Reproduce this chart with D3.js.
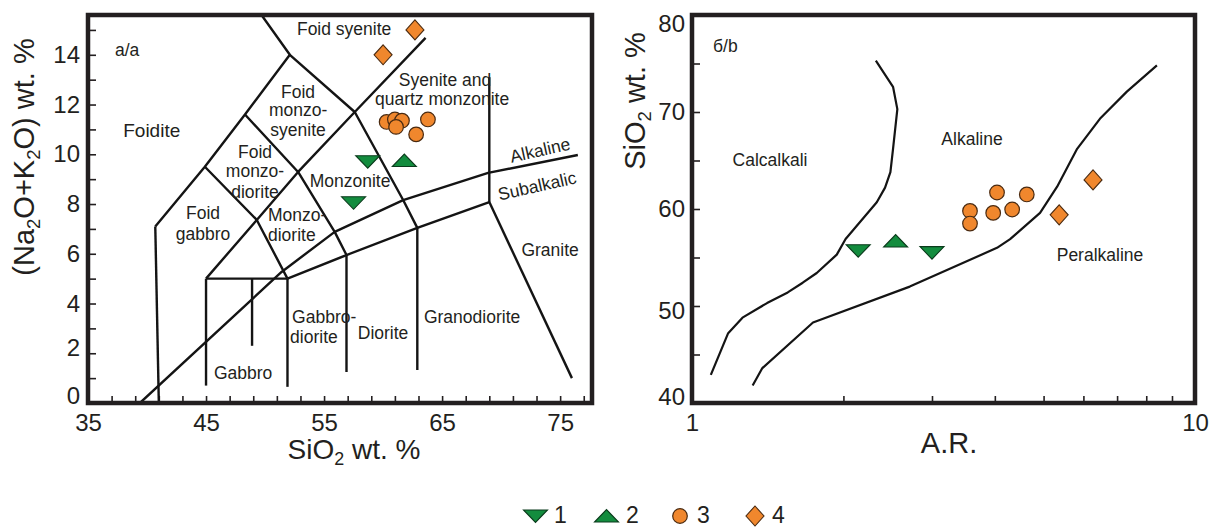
<!DOCTYPE html>
<html><head><meta charset="utf-8">
<script src="https://cdn.jsdelivr.net/npm/d3@7"></script>
<style>
body{margin:0;background:#fff;}
svg{display:block;font-family:"Liberation Sans",Arial,sans-serif;}
</style></head><body>
<svg id="c" width="1210" height="528"></svg>
<script>
// ---------------- DATA ----------------
// Left panel (TAS): SiO2 vs Na2O+K2O
const tasXDomain = [35, 77.7];
const tasYDomain = [0, 15.6];
const tasXLabels = [35, 45, 55, 65, 75];
const tasYLabels = [0, 2, 4, 6, 8, 10, 12, 14];

const tasS1 = [[58.7, 9.7], [57.5, 8.05]];               // 1 (down triangle)
const tasS2 = [[61.8, 9.75]];                             // 2 (up triangle)
const tasS3 = [[60.3, 11.3], [61.0, 11.4], [61.6, 11.35], [61.1, 11.1], [62.8, 10.8], [63.8, 11.4]]; // 3 circle
const tasS4 = [[62.7, 15.0], [60.0, 14.0]];              // 4 diamond

// TAS field boundaries (SiO2, Na2O+K2O)
const tasBoundaries = [
  [[41.0, 0], [40.7, 7.1]],
  [[40.7, 7.1], [44.9, 9.5], [48.3, 11.6], [52.1, 14.0], [49.7, 15.6]],
  [[44.9, 9.5], [49.3, 7.36], [51.9, 5.0]],
  [[48.3, 11.6], [52.8, 9.29], [55.9, 6.88], [56.9, 5.95], [56.9, 1.25]],
  [[52.1, 14.0], [57.6, 11.7], [61.7, 8.16], [62.9, 7.04], [62.9, 1.33]],
  [[45.0, 5.0], [49.3, 7.36], [52.8, 9.29], [57.6, 11.7], [63.6, 14.68]],
  [[45.0, 5.0], [51.9, 5.0]],
  [[45.0, 5.0], [45.0, 0.7]],
  [[48.9, 5.0], [48.9, 2.3]],
  [[51.9, 5.0], [51.9, 0.65]],
  [[51.9, 5.0], [56.9, 5.95], [62.9, 7.04], [69.0, 8.08]],
  [[69.0, 8.08], [69.0, 13.1]],
  [[69.0, 8.08], [76.0, 1.0]]
];
const tasAlkalineLine = [[39.4, 0], [51.4, 5.27], [55.9, 6.88], [61.7, 8.16], [68.9, 9.25], [76.5, 9.97]];

// Right panel: A.R. (log) vs SiO2
const arXDomain = [1, 10];
const arYDomain = [40, 80];
const arXLabels = [1, 10];
const arYLabels = [40, 50, 60, 70, 80];

const arS1 = [[2.14, 55.7], [3.0, 55.5]];
const arS2 = [[2.54, 56.7]];
const arS3 = [[3.57, 59.8], [3.57, 58.5], [4.04, 61.7], [3.97, 59.6], [4.33, 59.95], [4.63, 61.5]];
const arS4 = [[5.37, 59.4], [6.27, 63.0]];

const arCalcAlkLine = [[2.32, 75.3], [2.51, 72.6], [2.56, 70.3], [2.51, 66.2], [2.48, 63.8], [2.42, 62.2],
  [2.33, 60.7], [2.02, 56.9], [1.94, 55.3], [1.77, 53.4], [1.66, 52.4], [1.55, 51.4], [1.41, 50.3],
  [1.26, 48.8], [1.18, 47.2], [1.09, 42.9]];
const arPeralkLine = [[1.32, 41.8], [1.38, 43.6], [1.74, 48.3], [2.71, 52.0], [4.04, 56.0], [4.29, 56.9],
  [4.92, 59.6], [5.32, 62.3], [5.83, 66.2], [6.47, 69.3], [7.32, 72.1], [8.4, 74.8]];

const legendLabels = ["1", "2", "3", "4"];

// ---------------- DRAW ----------------
const INK = "#231f20";
const ORANGE = "#f0872d", ORANGE_ST = "#4a2a10";
const GREEN = "#138c3e", GREEN_ST = "#0b3b1c";
const svg = d3.select("#c");

function marker(g, type, x, y) {
  if (type === "circle") {
    g.append("circle").attr("cx", x).attr("cy", y).attr("r", 7.3)
      .attr("fill", ORANGE).attr("stroke", ORANGE_ST).attr("stroke-width", 1.2);
    return;
  }
  let p, fill, st;
  if (type === "down") { p = "M-12,-6L12,-6L0,6.5Z"; fill = GREEN; st = GREEN_ST; }
  if (type === "up") { p = "M-12,6L12,6L0,-6.5Z"; fill = GREEN; st = GREEN_ST; }
  if (type === "diamond") { p = "M0,-10L9,0L0,10L-9,0Z"; fill = ORANGE; st = ORANGE_ST; }
  g.append("path").attr("d", p).attr("transform", `translate(${x},${y})`)
    .attr("fill", fill).attr("stroke", st).attr("stroke-width", 1.1).attr("stroke-linejoin", "miter");
}

function richText(sel, parts, size) {
  let open = false;
  parts.forEach(([t, sub]) => {
    if (sub) {
      sel.append("tspan").attr("font-size", size * 0.64).attr("dy", size * 0.2).text(t);
    } else {
      const ts = sel.append("tspan").attr("font-size", size).text(t);
      if (open) ts.attr("dy", -size * 0.2);
    }
    open = !!sub;
  });
}

function styleAxis(g) {
  g.select(".domain").remove();
  g.selectAll(".tick line").attr("stroke", INK).attr("stroke-width", 1.6);
  g.selectAll(".tick text").attr("fill", INK).attr("font-size", 24)
    .attr("font-family", '"Liberation Sans", Arial, sans-serif');
}

function label(g, txt, x, y, opts = {}) {
  const t = g.append("text").attr("x", x).attr("y", y).attr("dy", "0.35em")
    .attr("text-anchor", opts.anchor || "middle").attr("fill", INK)
    .attr("font-size", opts.size || 17.5).text(txt);
  if (opts.rot) t.attr("transform", `rotate(${opts.rot},${x},${y})`);
  return t;
}

// ===== Left panel =====
const xL = d3.scaleLinear().domain(tasXDomain).range([88, 592]);
const yL = d3.scaleLinear().domain(tasYDomain).range([403, 15]);
const gL = svg.append("g");
gL.append("clipPath").attr("id", "clipL").append("rect")
  .attr("x", 88).attr("y", 15).attr("width", 504).attr("height", 388);

gL.append("g").attr("transform", "translate(0,403)")
  .call(d3.axisBottom(xL).tickValues(d3.range(35, 78, 2)).tickSize(-7).tickPadding(11)
    .tickFormat(d => tasXLabels.includes(d) ? d : ""))
  .call(styleAxis);
const yAxL = gL.append("g").attr("transform", "translate(88,0)")
  .call(d3.axisLeft(yL).tickValues(d3.range(0, 16, 1)).tickSize(-8).tickPadding(8)
    .tickFormat(d => tasYLabels.includes(d) ? d : ""))
  .call(styleAxis);
yAxL.selectAll(".tick text").filter(d => d === 0).attr("y", -7);
yAxL.selectAll(".tick text").filter(d => d === 2).attr("y", -5);

const lineL = d3.line().x(d => xL(d[0])).y(d => yL(d[1]));
const linesL = gL.append("g").attr("clip-path", "url(#clipL)");
tasBoundaries.concat([tasAlkalineLine]).forEach(l => {
  linesL.append("path").attr("d", lineL(l)).attr("fill", "none")
    .attr("stroke", "#141414").attr("stroke-width", 2.4).attr("stroke-linejoin", "round");
});

// field labels (data coords)
const lg = gL.append("g");
label(lg, "a/a", xL(37.29), yL(14.19), { anchor: "start" });
label(lg, "Foid syenite", xL(56.7), yL(15.04));
label(lg, "Foidite", xL(40.4), yL(10.98), { size: 19 });
label(lg, "Foid", xL(52.8), yL(12.5));
label(lg, "monzo-", xL(52.8), yL(11.78));
label(lg, "syenite", xL(52.8), yL(11.0));
label(lg, "Syenite and", xL(65.25), yL(12.99));
label(lg, "quartz monzonite", xL(65.0), yL(12.22));
label(lg, "Foid", xL(49.15), yL(10.09));
label(lg, "monzo-", xL(49.15), yL(9.33));
label(lg, "diorite", xL(49.15), yL(8.48));
label(lg, "Foid", xL(44.75), yL(7.64));
label(lg, "gabbro", xL(44.75), yL(6.8));
label(lg, "Monzonite", xL(57.2), yL(8.93));
label(lg, "Monzo-", xL(50.25), yL(7.56), { anchor: "start" });
label(lg, "diorite", xL(50.25), yL(6.76), { anchor: "start" });
label(lg, "Alkaline", xL(73.3), yL(10.17), { rot: -12.5 });
label(lg, "Subalkalic", xL(73.05), yL(8.73), { rot: -12.6 });
label(lg, "Granite", xL(74.15), yL(6.15));
label(lg, "Granodiorite", xL(67.54), yL(3.46));
label(lg, "Diorite", xL(60.0), yL(2.81));
label(lg, "Gabbro-", xL(52.29), yL(3.46), { anchor: "start" });
label(lg, "diorite", xL(52.12), yL(2.65), { anchor: "start" });
label(lg, "Gabbro", xL(48.14), yL(1.21));

// markers
const mL = gL.append("g");
tasS1.forEach(d => marker(mL, "down", xL(d[0]), yL(d[1])));
tasS2.forEach(d => marker(mL, "up", xL(d[0]), yL(d[1])));
tasS3.forEach(d => marker(mL, "circle", xL(d[0]), yL(d[1])));
tasS4.forEach(d => marker(mL, "diamond", xL(d[0]), yL(d[1])));

gL.append("rect").attr("x", 88).attr("y", 15).attr("width", 504).attr("height", 388)
  .attr("fill", "none").attr("stroke", INK).attr("stroke-width", 4.5);

// axis titles
const tx1 = gL.append("text").attr("x", 354).attr("y", 459).attr("text-anchor", "middle").attr("fill", INK);
richText(tx1, [["SiO", false], ["2", true], [" wt. %", false]], 28);
const ty1 = gL.append("text").attr("transform", "translate(34,157) rotate(-90)")
  .attr("text-anchor", "middle").attr("fill", INK);
richText(ty1, [["(Na", false], ["2", true], ["O+K", false], ["2", true], ["O) wt. %", false]], 29);

// ===== Right panel =====
const xR = d3.scaleLog().domain(arXDomain).range([692, 1195]);
const yR = d3.scaleLinear().domain(arYDomain).range([403, 15]);
const gR = svg.append("g");
gR.append("clipPath").attr("id", "clipR").append("rect")
  .attr("x", 692).attr("y", 15).attr("width", 503).attr("height", 388);

gR.append("g").attr("transform", "translate(0,403)")
  .call(d3.axisBottom(xR).tickValues(d3.range(1, 11, 1)).tickSize(-7).tickPadding(11)
    .tickFormat(d => arXLabels.includes(d) ? d : ""))
  .call(styleAxis);
const yAxR = gR.append("g").attr("transform", "translate(692,0)")
  .call(d3.axisLeft(yR).tickValues(d3.range(40, 81, 5)).tickSize(-8).tickPadding(7)
    .tickFormat(d => arYLabels.includes(d) ? d : ""))
  .call(styleAxis);
yAxR.selectAll(".tick text").filter(d => d === 80).attr("y", 9);
yAxR.selectAll(".tick text").filter(d => d === 40).attr("y", -6);
yAxR.selectAll(".tick text").filter(d => d === 50).attr("y", 5);

const lineR = d3.line().x(d => xR(d[0])).y(d => yR(d[1]));
const linesR = gR.append("g").attr("clip-path", "url(#clipR)");
[arCalcAlkLine, arPeralkLine].forEach(l => {
  linesR.append("path").attr("d", lineR(l)).attr("fill", "none")
    .attr("stroke", "#141414").attr("stroke-width", 2.2).attr("stroke-linejoin", "round");
});

const lr = gR.append("g");
label(lr, "б/b", xR(1.101), yR(76.8), { anchor: "start" });
label(lr, "Calcalkali", xR(1.429), yR(65.1));
label(lr, "Alkaline", xR(3.603), yR(67.2));
label(lr, "Peralkaline", xR(6.474), yR(55.3));

const mR = gR.append("g");
arS1.forEach(d => marker(mR, "down", xR(d[0]), yR(d[1])));
arS2.forEach(d => marker(mR, "up", xR(d[0]), yR(d[1])));
arS3.forEach(d => marker(mR, "circle", xR(d[0]), yR(d[1])));
arS4.forEach(d => marker(mR, "diamond", xR(d[0]), yR(d[1])));

gR.append("rect").attr("x", 692).attr("y", 15).attr("width", 503).attr("height", 388)
  .attr("fill", "none").attr("stroke", INK).attr("stroke-width", 4.5);

gR.append("text").attr("x", 949).attr("y", 453).attr("text-anchor", "middle")
  .attr("fill", INK).attr("font-size", 29).text("A.R.");
const ty2 = gR.append("text").attr("transform", "translate(645,101) rotate(-90)")
  .attr("text-anchor", "middle").attr("fill", INK);
richText(ty2, [["SiO", false], ["2", true], [" wt. %", false]], 29);

// ===== Legend =====
const leg = svg.append("g");
const legTypes = ["down", "up", "circle", "diamond"];
const legMX = [535.5, 606.5, 680, 755];
const legTX = [554, 626, 697, 772];
legTypes.forEach((t, i) => {
  marker(leg, t, legMX[i], 516);
  leg.append("text").attr("x", legTX[i]).attr("y", 523).attr("fill", INK)
    .attr("font-size", 23).text(legendLabels[i]);
});
</script>
</body></html>
